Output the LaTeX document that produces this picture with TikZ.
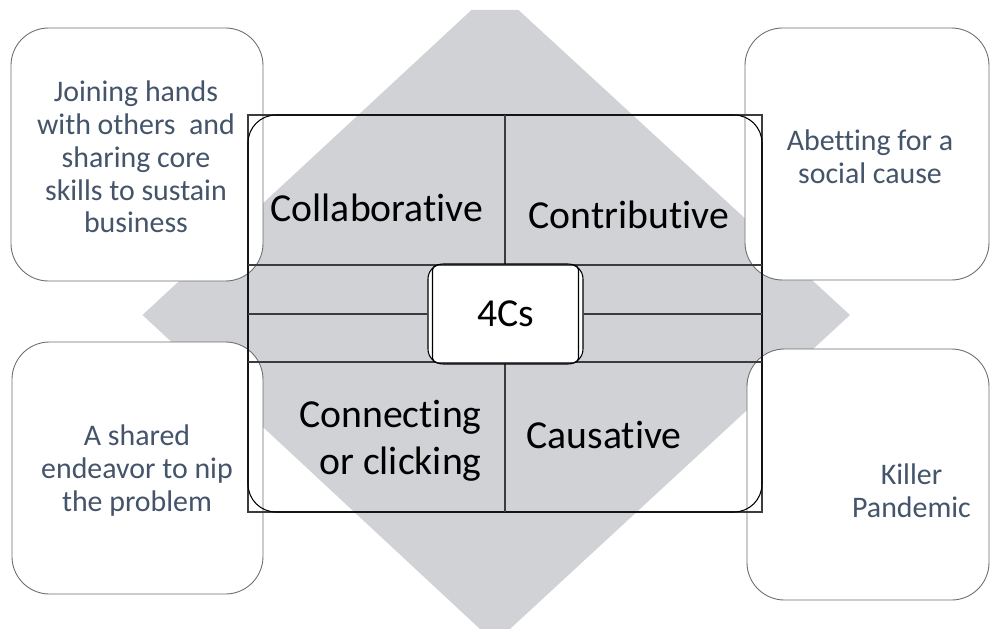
\documentclass[tikz,border=0pt]{standalone}
\usepackage{fontspec}
\setmainfont{Carlito}[Ligatures=NoCommon]
\usepackage{tikz}
\pgfdeclarelayer{diamondlayer}
\pgfdeclarelayer{boxlayer}
\pgfdeclarelayer{edgelayer}
\pgfdeclarelayer{nodelayer}
\pgfsetlayers{diamondlayer,boxlayer,edgelayer,nodelayer,main}
\definecolor{diamondgrey}{RGB}{208,210,214}
\definecolor{boxtext}{RGB}{68,84,106}
\definecolor{boxline}{RGB}{110,110,110}
\definecolor{frameline}{RGB}{60,60,60}
\tikzstyle{none} = []
\tikzstyle{diamond fill}=[fill=diamondgrey]
\tikzstyle{outer box}=[rectangle, rounded corners=0.75cm, draw=boxline, fill=white, line width=0.5pt, inner sep=0pt]
\tikzstyle{box text}=[text=boxtext, align=center, inner sep=0pt, font=\fontsize{17}{18.7}\selectfont]
\tikzstyle{cell text}=[align=right, inner sep=0pt, font=\fontsize{22.6}{26.5}\selectfont]
\tikzstyle{frame}=[rectangle, draw=frameline, line width=0.6pt, inner sep=0pt]
\tikzstyle{frame round}=[rectangle, rounded corners=0.56cm, draw=black, line width=0.6pt, inner sep=0pt]
\tikzstyle{frame line}=[draw=frameline, line width=0.8pt]
\tikzstyle{hub}=[rectangle, rounded corners=0.3cm, draw=black, fill=white, line width=0.6pt, inner sep=0pt, font=\fontsize{22.6}{26.5}\selectfont]
\tikzstyle{hub inner}=[rectangle, rounded corners=0.1cm, draw=black, line width=0.6pt, inner sep=0pt]

\begin{document}
\begin{tikzpicture}
	\useasboundingbox (-9.9, 6.3) rectangle (9.92, -6.28);
	\begin{pgfonlayer}{diamondlayer}
		\fill [style=diamond fill] (-7.05, 0) -- (-0.47, 6.1) -- (0.47, 6.1) -- (7.1, 0) -- (0.3, -6.28) -- (-0.3, -6.28) -- cycle;
	\end{pgfonlayer}
	\begin{pgfonlayer}{boxlayer}
		\node [style=outer box, minimum width=5.04cm, minimum height=5.06cm] (0) at (-7.16, 3.21) {};
		\node [style=outer box, minimum width=4.88cm, minimum height=5.04cm] (22) at (7.44, 3.22) {};
		\node [style=outer box, minimum width=5.02cm, minimum height=5.04cm] (23) at (-7.15, -3.06) {};
		\node [style=outer box, minimum width=4.84cm, minimum height=5.02cm] (24) at (7.46, -3.19) {};
	\end{pgfonlayer}
	\begin{pgfonlayer}{nodelayer}
		\node [style=box text] (1) at (-7.18, 3.16) {Joining hands\\with others\ \ and\\sharing core\\skills to sustain\\business};
		\node [style=box text] (2) at (7.5, 3.17) {Abetting for a\\social cause};
		\node [style=box text] (3) at (-7.16, -3.11) {A shared\\endeavor to nip\\the problem};
		\node [style=box text] (4) at (8.33, -3.52) {Killer\\Pandemic};
		\node [style=cell text, anchor=base] (5) at (-2.36, 1.87) {Collaborative};
		\node [style=cell text, anchor=base] (6) at (2.68, 1.74) {Contributive};
		\node [style=cell text, anchor=east] (7) at (-0.26, -2.51) {Connecting\\or clicking};
		\node [style=cell text, anchor=base] (8) at (2.18, -2.66) {Causative};
		\node [style=hub, minimum width=3.1cm, minimum height=2cm] (9) at (0.21, 0.02) {4Cs};
		\node [style=hub inner, minimum width=2.92cm, minimum height=1.96cm] (25) at (0.21, 0.02) {};
	\end{pgfonlayer}
	\begin{pgfonlayer}{edgelayer}
		\node [style=frame, minimum width=10.28cm, minimum height=7.94cm] (10) at (0.2, 0.03) {};
		\node [style=frame round, minimum width=10.28cm, minimum height=7.94cm] (11) at (0.2, 0.03) {};
		\node [style=none] (12) at (-4.94, 1.0) {};
		\node [style=none] (13) at (5.34, 1.0) {};
		\node [style=none] (14) at (-4.94, -0.94) {};
		\node [style=none] (15) at (5.34, -0.94) {};
		\node [style=none] (16) at (-4.94, 0.02) {};
		\node [style=none] (17) at (5.34, 0.02) {};
		\node [style=none] (18) at (0.2, 4.0) {};
		\node [style=none] (19) at (0.2, 1.0) {};
		\node [style=none] (20) at (0.2, -0.94) {};
		\node [style=none] (21) at (0.2, -3.94) {};
		\draw [style=frame line] (12.center) to (13.center);
		\draw [style=frame line] (14.center) to (15.center);
		\draw [style=frame line] (16.center) to (9);
		\draw [style=frame line] (9) to (17.center);
		\draw [style=frame line] (18.center) to (19.center);
		\draw [style=frame line] (20.center) to (21.center);
	\end{pgfonlayer}
\end{tikzpicture}
\end{document}
